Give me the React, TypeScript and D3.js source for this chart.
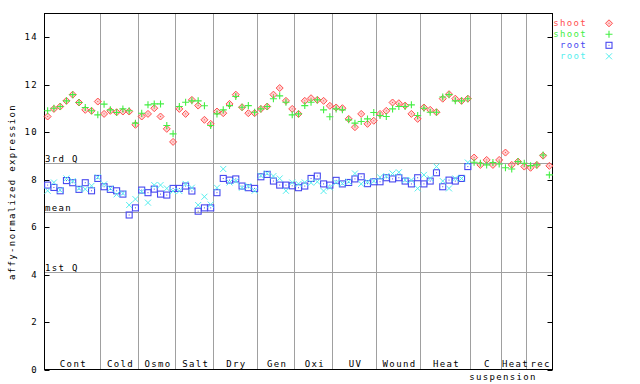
import React from "react";
import * as d3 from "d3";

const groups = ["Cont", "Cold", "Osmo", "Salt", "Dry", "Gen", "Oxi", "UV", "Wound", "Heat", "C", "Heat", "rec"];
const groupSizes = [9, 6, 6, 6, 7, 6, 6, 7, 7, 8, 5, 4, 4];
const yTicks = [0, 2, 4, 6, 8, 10, 12, 14];
const refLines = [
  { label: "3rd Q", value: 8.7 },
  { label: "mean", value: 6.63 },
  { label: "1st Q", value: 4.1 },
];

const shootRed = [
  10.66, 10.98, 11.08, 11.32, 11.58, 11.25, 10.94, 10.9, 11.29,
  10.77, 10.9, 10.84, 10.87, 10.87, 10.31,
  10.66, 10.77, 11.01, 10.66, 10.14, 9.59,
  10.98, 10.77, 11.36, 11.12, 10.52, 10.35,
  10.87, 10.8, 11.19, 11.58, 11.05, 10.8, 10.8,
  10.98, 11.08, 11.58, 11.86, 11.32, 10.98,
  10.77, 11.32, 11.43, 11.36, 11.32, 11.11,
  11.04, 11.01, 10.56, 10.21, 10.77, 10.35, 10.48,
  10.77, 10.9, 11.25, 11.22, 11.12, 10.77, 10.56,
  11.04, 10.94, 10.84, 11.41, 11.6, 11.41, 11.32, 11.41,
  8.93, 8.62, 8.83, 8.62, 8.83,
  9.14, 8.62, 8.76, 8.55,
  8.5, 8.62, 9.01, 8.58,
];

const shootGreen = [
  10.9, 11.01, 11.08, 11.32, 11.58, 11.25, 11.04, 10.9, 10.73,
  11.18, 10.94, 10.83, 10.98, 10.9, 10.38,
  10.8, 11.15, 11.19, 11.19, 10.28, 9.93,
  11.08, 11.26, 11.32, 11.32, 11.11, 10.28,
  10.77, 10.94, 11.12, 11.5, 11.05, 11.12, 10.84,
  10.98, 11.08, 11.41, 11.53, 11.26, 10.73,
  10.77, 11.12, 11.26, 11.36, 10.94, 10.65,
  10.98, 10.94, 10.52, 10.38, 10.45, 10.56, 10.83,
  10.7, 10.66, 10.98, 11.08, 11.08, 11.15, 10.7,
  11.01, 10.84, 10.84, 11.48, 11.58, 11.32, 11.32, 11.41,
  8.73, 8.69, 8.62, 8.72, 8.66,
  8.5, 8.45, 8.76, 8.69,
  8.59, 8.62, 9.04, 8.2,
];

const rootBlue = [
  7.77, 7.67, 7.53, 7.96, 7.87, 7.59, 7.87, 7.53, 8.05,
  7.7, 7.59, 7.53, 7.39, 6.51, 6.81,
  7.56, 7.45, 7.6, 7.39, 7.35, 7.63,
  7.63, 7.73, 7.52, 6.67, 6.81, 6.81,
  7.45, 8.05, 7.98, 8.03, 7.73, 7.66, 7.63,
  8.12, 8.22, 7.94, 7.77, 7.77, 7.74,
  7.66, 7.73, 8.05, 8.15, 7.82, 7.77,
  7.97, 7.82, 7.88, 8.03, 8.12, 7.83, 7.91,
  7.91, 8.08, 8.03, 8.08, 7.94, 7.82, 8.08,
  7.82, 7.94, 8.29, 7.7, 7.98, 7.94, 8.05, 8.55,
];

const rootCyan = [
  7.53, 7.88, 7.56, 8.05, 7.94, 7.63, 7.6, 7.74, 8.1,
  7.8, 7.63, 7.38, 7.42, 6.93, 7.18,
  7.49, 7.03, 7.77, 7.77, 7.63, 7.52,
  7.52, 7.82, 7.66, 6.93, 7.28, 6.95,
  7.66, 8.45, 7.88, 7.94, 7.66, 7.73, 7.53,
  8.17, 8.26, 8.15, 8.05, 7.53, 7.88,
  7.82, 7.88, 7.87, 7.91, 7.52, 7.67,
  7.88, 7.84, 7.91, 8.26, 7.82, 7.91, 7.94,
  8.1, 8.15, 8.26, 8.31, 7.98, 7.98, 7.63,
  8.2, 8.05, 8.55, 7.94, 7.63, 8.05, 8.05, 8.72,
];

const RED = "#ff5050";
const GREEN = "#44ee44";
const BLUE = "#4848f0";
const CYAN = "#55eeee";
const GRID = "#a0a0a0";
const FONT = "'DejaVu Sans Mono', monospace";
const LS = 1.35;

function Marker({ kind, x, y, color }: { kind: string; x: number; y: number; color: string }) {
  if (kind === "diamond") {
    return (
      <g>
        <path d={`M${x},${y - 3.5}L${x + 3.5},${y}L${x},${y + 3.5}L${x - 3.5},${y}Z`} fill={color} fillOpacity={0.25} stroke={color} strokeWidth={1} />
        <rect x={x - 0.5} y={y - 0.5} width={1} height={1} fill={color} />
      </g>
    );
  }
  if (kind === "plus") {
    return (
      <path d={`M${x - 3.5},${y}H${x + 3.5}M${x},${y - 3.5}V${y + 3.5}`} stroke={color} strokeWidth={1.1} />
    );
  }
  if (kind === "square") {
    return (
      <g>
        <rect x={x - 3} y={y - 3} width={6} height={6} fill="none" stroke={color} strokeWidth={1.1} />
        <rect x={x - 0.5} y={y - 0.5} width={1} height={1} fill={color} />
      </g>
    );
  }
  return (
    <path d={`M${x - 3},${y - 3}L${x + 3},${y + 3}M${x - 3},${y + 3}L${x + 3},${y - 3}`} stroke={color} strokeWidth={1} />
  );
}

export default function App() {
  const total = d3.sum(groupSizes);
  const x = d3.scaleLinear().domain([0, total]).range([44.5, 552.5]);
  const y = d3.scaleLinear().domain([0, 15]).range([369.5, 13.5]);
  const bounds = d3.cumsum(groupSizes);
  const starts = [0, ...Array.from(bounds).slice(0, -1)];

  const series = [
    { name: "shoot", data: shootRed, color: RED, kind: "diamond" },
    { name: "shoot", data: shootGreen, color: GREEN, kind: "plus" },
    { name: "root", data: rootBlue, color: BLUE, kind: "square" },
    { name: "root", data: rootCyan, color: CYAN, kind: "cross" },
  ];

  const left = x(0);
  const right = x(total);
  const top = y(15);
  const bottom = y(0);

  return (
    <svg width={640} height={384} style={{ position: "absolute", left: 0, top: 0 }} fontFamily={FONT} fontSize={9} letterSpacing={LS}>
      <rect width={640} height={384} fill="#fff" />
      {Array.from(bounds).slice(0, -1).map((b, i) => (
        <line key={"s" + i} x1={Math.round(x(b)) - 0.5} x2={Math.round(x(b)) - 0.5} y1={top} y2={bottom} stroke={GRID} strokeWidth={1} />
      ))}
      {refLines.map((r) => (
        <g key={r.label}>
          <line x1={left} x2={right} y1={Math.round(y(r.value)) + 0.5} y2={Math.round(y(r.value)) + 0.5} stroke={GRID} strokeWidth={1} />
          <text x={left + 0.5} y={y(r.value) - 1} fill="#000">{r.label}</text>
        </g>
      ))}
      {yTicks.map((t) => (
        <g key={"t" + t}>
          <line x1={left} x2={left + 5} y1={Math.round(y(t)) + 0.5} y2={Math.round(y(t)) + 0.5} stroke="#000" />
          <line x1={right - 5} x2={right} y1={Math.round(y(t)) + 0.5} y2={Math.round(y(t)) + 0.5} stroke="#000" />
          <text x={38} y={y(t)} dy="0.35em" textAnchor="end" fill="#000">{t}</text>
        </g>
      ))}
      <rect x={left} y={top} width={right - left} height={bottom - top} fill="none" stroke="#000" strokeWidth={1} />
      <text transform={`translate(12,192) rotate(-90)`} textAnchor="middle" dy="0.35em" fill="#000">affy-normalized expression</text>
      {groups.map((g, i) => (
        <text key={"g" + i} x={x(starts[i] + groupSizes[i] / 2) + LS / 2} y={364} dy="0.35em" textAnchor="middle" fill="#000">{g}</text>
      ))}
      <text x={x(bounds[10]) + LS / 2} y={377} dy="0.35em" textAnchor="middle" fill="#000">suspension</text>
      {series.map((s, si) => (
        <g key={"p" + si}>
          {s.data.map((v, i) => (
            <Marker key={i} kind={s.kind} x={x(i + 0.5)} y={y(v)} color={s.color} />
          ))}
        </g>
      ))}
      {series.map((s, si) => (
        <g key={"l" + si}>
          <text x={587} y={23.3 + si * 11} dy="0.35em" textAnchor="end" fill={s.color}>{s.name}</text>
          <Marker kind={s.kind} x={609} y={23.3 + si * 11} color={s.color} />
        </g>
      ))}
    </svg>
  );
}
